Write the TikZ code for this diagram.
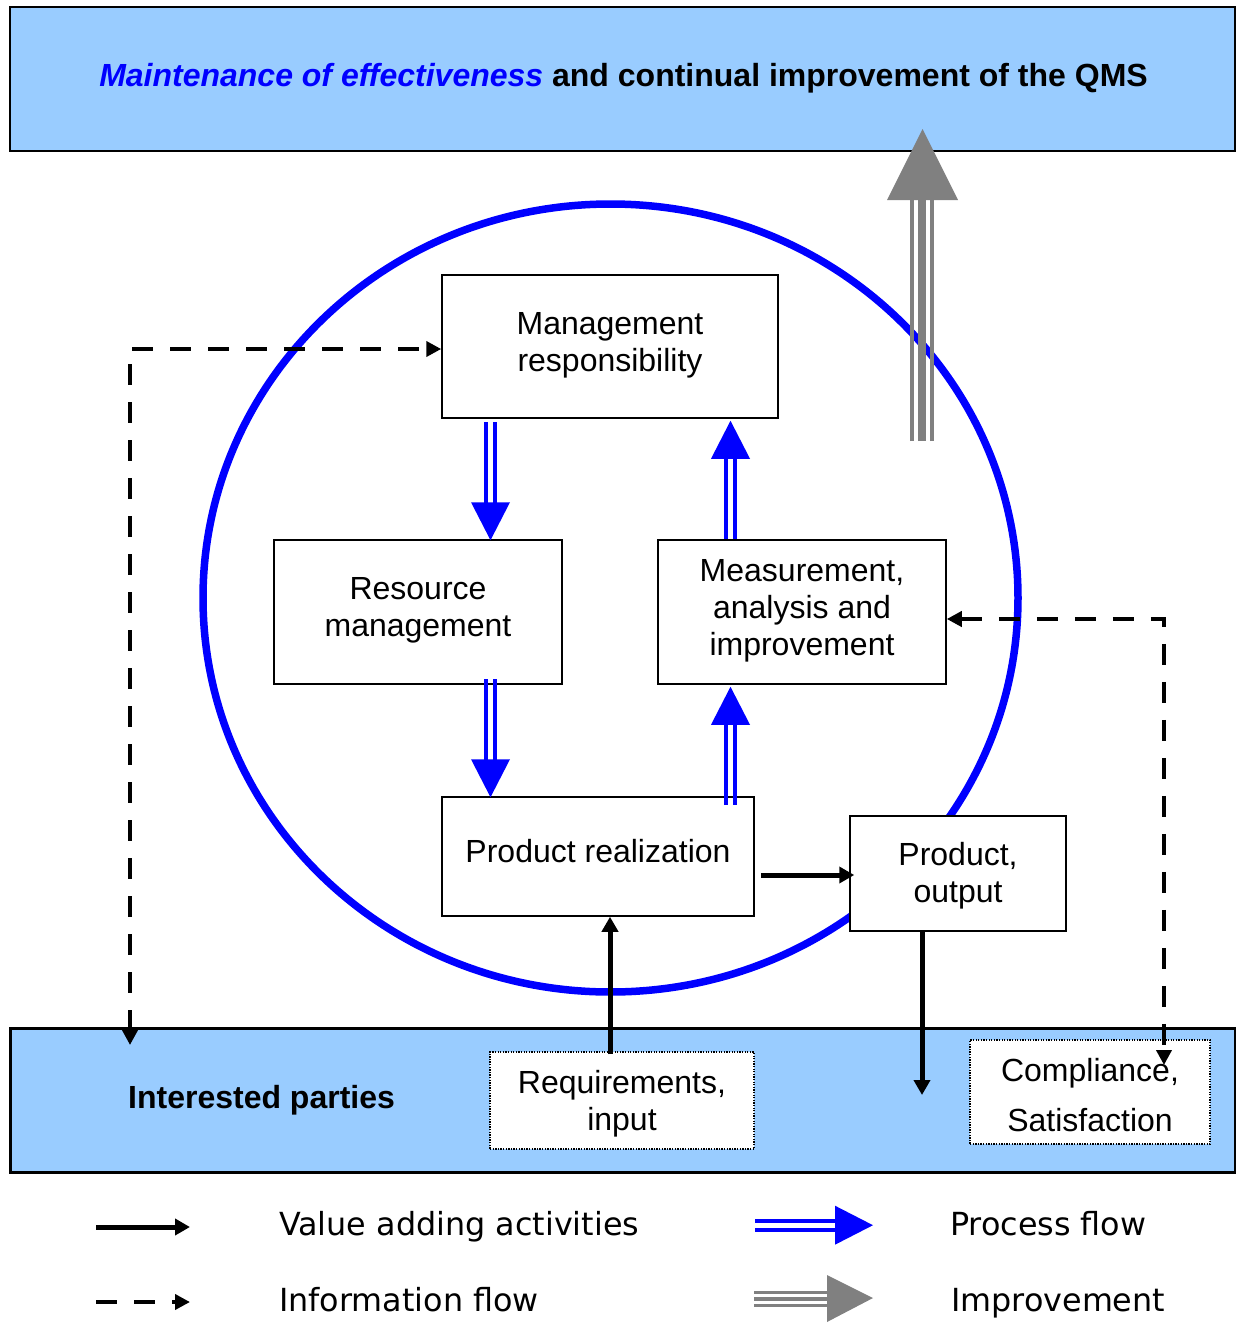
\documentclass[tikz,border=0pt]{standalone}
\usepackage{fontspec}
\setmainfont{Liberation Sans}
\newfontfamily\legendfont{DejaVu Sans}
\usetikzlibrary{arrows.meta,calc}
\definecolor{lightblue}{HTML}{99CCFF}
\definecolor{qblue}{HTML}{0000FF}
\definecolor{qgray}{HTML}{808080}
\begin{document}
\begin{tikzpicture}[x=1pt,y=-1pt,
  band/.style={draw=black, fill=lightblue, inner sep=0pt, minimum width=1225pt, minimum height=144pt},
  box/.style={draw=black, line width=1.5pt, fill=white, inner sep=0pt},
  dotbox/.style={box, line width=1.3pt, dash pattern=on 1.3pt off 1.3pt},
  boxtext/.style={align=center, inner sep=0pt, font=\fontsize{32}{37}\selectfont},
  valarrow/.style={line width=5pt, -{Triangle[length=15pt,width=16pt]}},
  infoarrow/.style={line width=4.5pt, dash pattern=on 21pt off 17pt,
    {Triangle[length=15pt,width=15pt]}-{Triangle[length=15pt,width=15pt]}},
  infolegend/.style={line width=4.5pt, dash pattern=on 21pt off 17pt,
    -{Triangle[length=15pt,width=15pt]}},
  legendtext/.style={anchor=base west, inner sep=0pt, font=\legendfont\fontsize{31.8}{36}\selectfont},
  pics/proc/.style={code={
    \draw[qblue, line width=4pt] (-118,-4.6) -- (-36,-4.6) (-118,4.6) -- (-36,4.6);
    \fill[qblue] (-38,-19.5) -- (0,0) -- (-38,19.5) -- cycle;
  }}
]
\useasboundingbox (0,0) rectangle (1236,1323);
\fill[white] (0,0) rectangle (1236,1323);

% top and bottom bands
\node[band, line width=2pt] (top) at (622.5,79) {};
\node[inner sep=0pt, font=\bfseries\fontsize{32}{37}\selectfont] (title) at (623.5,78)
  {\textcolor{qblue}{\itshape Maintenance of effectiveness} and continual improvement of the QMS};
\node[band, line width=3pt] (parties) at (622.5,1100) {};
\node[anchor=west, inner sep=0pt, font=\bfseries\fontsize{32}{37}\selectfont] (iptext) at (128,1100) {Interested parties};

% the circle
\draw[qblue, line width=7.5pt] (610.5,598) ellipse [x radius=407.5pt, y radius=394pt];

% boxes
\node[box, minimum width=336pt, minimum height=143pt] (MR) at (610,346.5) {};
\node[boxtext] (MRt) at ($(MR)+(0,-1.5)$) {Management\\responsibility};
\node[box, minimum width=288pt, minimum height=144pt] (RM) at (418,612) {};
\node[boxtext] (RMt) at ($(RM)+(0,-2)$) {Resource\\management};
\node[box, minimum width=288pt, minimum height=144pt] (ME) at (802,612) {};
\node[boxtext] (MEt) at ($(ME)+(0,-1.5)$) {Measurement,\\analysis and\\improvement};
\node[box, minimum width=312pt, minimum height=119pt] (PR) at (598,856.5) {};
\node[boxtext] (PRt) at ($(PR)+(0,-5.5)$) {Product realization};
\node[box, minimum width=216pt, minimum height=115pt] (PO) at (958,873.5) {};
\node[boxtext] (POt) at ($(PO)+(0,2.5)$) {Product,\\output};
\node[dotbox, minimum width=264pt, minimum height=97pt] (Req) at (622,1100.5) {};
\node[boxtext] (Reqt) at ($(Req)+(0,3)$) {Requirements,\\input};
\node[dotbox, minimum width=240pt, minimum height=104pt] (Comp) at (1090,1092) {};
\node[boxtext, font=\fontsize{32}{50}\selectfont] (Compt) at ($(Comp)+(0,3)$) {Compliance,\\Satisfaction};

% process flow (blue double arrows)
\pic[rotate=-90] at ($(RM.north)+(72.5,1)$) {proc};
\pic[rotate=-90] at ($(PR.north)+(-107.5,1)$) {proc};
\pic[rotate=90] at ($(MR.south)+(120.5,2)$) {proc};
\pic[rotate=90] at ($(ME.south)+(-71.5,2)$) {proc};

% value adding activities
\draw[valarrow] ($(PR.east |- PO.west)+(6,1.5)$) -- ($(PO.west)+(5,1.5)$);
\draw[valarrow] ($(Req.north)+(-12,3)$) -- ($(PR.south)+(12,0)$);
\coordinate (pod) at (922,1095);
\draw[valarrow] ($(PO.south)+(-36,0)$) -- (pod);

% information flow
\coordinate (ipl) at (130,1045);
\coordinate (ipr) at (1164,1065);
\draw[infoarrow] (ipl) |- ($(MR.west)+(0,2.5)$);
\draw[infoarrow] ($(ME.east)+(0,7)$) -| (ipr);

% improvement arrow
\coordinate (imp) at (922.5,129);
\draw[qgray, line width=4pt] (912,441) -- (912,198) (932,441) -- (932,198);
\draw[qgray, line width=8pt] (922,441) -- (922,198);
\fill[qgray] (887,200) -- (imp) -- (958,200) -- cycle;

% legend
\coordinate (la1) at (96,1227); \coordinate (lb1) at (190,1227);
\draw[valarrow] (la1) -- (lb1);
\node[legendtext] (lt1) at (279,1235) {Value adding activities};
\coordinate (la2) at (96,1302); \coordinate (lb2) at (190,1302);
\draw[infolegend] (la2) -- (lb2);
\node[legendtext] (lt2) at (279,1311) {Information flow};
\pic at (873,1225.2) {proc};
\node[legendtext] (lt3) at (950,1235) {Process flow};
\draw[qgray, line width=3.3pt] (754,1292.5) -- (829,1292.5) (754,1305.5) -- (829,1305.5);
\draw[qgray, line width=4.3pt] (754,1299) -- (829,1299);
\fill[qgray] (827,1275) -- (873,1298) -- (827,1322) -- cycle;
\node[legendtext] (lt4) at (951,1311) {Improvement};
\end{tikzpicture}
\end{document}
